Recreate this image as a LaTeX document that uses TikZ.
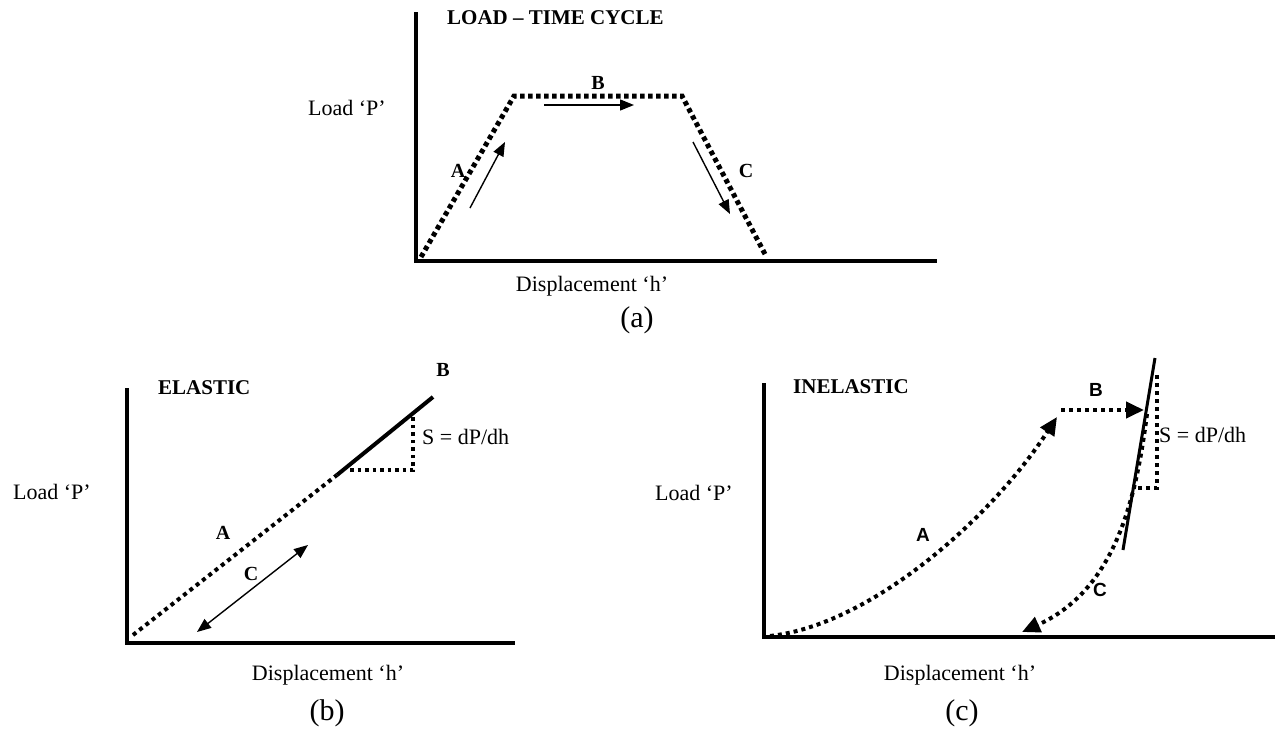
\documentclass[tikz,border=0pt]{standalone}
\usepackage{fontspec}
\setmainfont{Liberation Serif}
\newfontfamily\sanslab{Liberation Sans}
\usetikzlibrary{arrows.meta}
\begin{document}
\begin{tikzpicture}[x=1pt,y=-1pt,
  axis/.style={line width=3.5pt, line join=miter},
  dotsA/.style={line width=5pt, dash pattern=on 4.5pt off 3.5pt},
  dotsB/.style={line width=4pt, dash pattern=on 4pt off 4pt},
  solidline/.style={line width=4pt},
  thin arrow/.style={line width=1.4pt, -{Triangle[length=14pt,width=11pt]}},
  both arrow/.style={line width=1.4pt, {Triangle[length=14pt,width=11pt]}-{Triangle[length=14pt,width=11pt]}},
  big tip/.style={-{Triangle[length=18pt,width=16pt]}},
  txt/.style={inner sep=0pt, font=\fontsize{22}{26}\selectfont},
  ttl/.style={inner sep=0pt, anchor=west, font=\fontsize{21}{25}\selectfont\bfseries},
  lbl/.style={inner sep=0pt, font=\fontsize{20}{24}\selectfont\bfseries},
  sflbl/.style={inner sep=0pt, font=\fontsize{19}{24}\selectfont\sanslab\bfseries},
  capt/.style={inner sep=0pt, font=\fontsize{30}{34}\selectfont}
]
\useasboundingbox (0,0) rectangle (1275,731);

% ---------------- (a) ----------------
\coordinate (aT) at (416,12);
\coordinate (aO) at (416,261);
\coordinate (aR) at (937,261);
\draw[axis] (aT) -- (aO) -- (aR);
\coordinate (a1) at (421,257);
\coordinate (a2) at (514,96);
\coordinate (a3) at (682,96);
\coordinate (a4) at (766,256);
\draw[dotsA] (a1) -- (a2) -- (a3) -- (a4);
\node[ttl] (aTitle) at (447,18) {LOAD – TIME CYCLE};
\node[lbl] (aB) at (598,83) {B};
\node[lbl] (aA) at (458,171) {A};
\node[lbl] (aC) at (746,171) {C};
\coordinate (aAs) at (470,208);
\coordinate (aAe) at (505,142);
\coordinate (aBs) at (544,105);
\coordinate (aBe) at (634,105);
\coordinate (aCs) at (693,142);
\coordinate (aCe) at (730,214);
\draw[thin arrow] (aAs) -- (aAe);
\draw[thin arrow] (aBs) -- (aBe);
\draw[thin arrow] (aCs) -- (aCe);
\node[txt] (aLoad) at (347,108) {Load ‘P’};
\node[txt] (aDisp) at (592,286) {Displacement ‘h’};
\node[capt] (aCap) at (637,320) {(a)};

% ---------------- (b) ----------------
\coordinate (bT) at (127,388);
\coordinate (bO) at (127,643);
\coordinate (bR) at (515,643);
\draw[axis] (bT) -- (bO) -- (bR);
\coordinate (b1) at (133,635);
\coordinate (b2) at (337,475);
\coordinate (b3) at (433,397);
\draw[dotsB] (b1) -- (b2);
\draw[solidline] (b2) -- (b3);
\coordinate (bL) at (350,470);
\coordinate (bC) at (413,470);
\coordinate (bU) at (413,416);
\draw[dotsB, line width=3.5pt, dash pattern=on 3.5pt off 4pt] (bL) -- (bC) -- (bU);
\node[ttl] (bTitle) at (158,388) {ELASTIC};
\node[lbl] (bB) at (443,370) {B};
\node[lbl] (bA) at (223,533) {A};
\node[lbl] (bC2) at (251,574) {C};
\node[txt, anchor=west] (bS) at (422,437) {S = dP/dh};
\coordinate (bCs) at (197,632);
\coordinate (bCe) at (308,545);
\draw[both arrow] (bCs) -- (bCe);
\node[txt] (bLoad) at (52,492) {Load ‘P’};
\node[txt] (bDisp) at (328,675) {Displacement ‘h’};
\node[capt] (bCap) at (327,713) {(b)};

% ---------------- (c) ----------------
\coordinate (cT) at (764,383);
\coordinate (cO) at (764,637);
\coordinate (cR) at (1275,637);
\draw[axis] (cT) -- (cO) -- (cR);
\coordinate (c0) at (770,636);
\coordinate (cA1) at (870,625);
\coordinate (cA2) at (990,520);
\coordinate (cAe) at (1057,417);
\draw[dotsB, big tip] (c0) .. controls (cA1) and (cA2) .. (cAe);
\coordinate (cBs) at (1061,410);
\coordinate (cBe) at (1144,410);
\draw[dotsB, big tip] (cBs) -- (cBe);
\coordinate (cSt) at (1155,358);
\coordinate (cSb) at (1123,550);
\draw[line width=3pt] (cSt) -- (cSb);
\coordinate (cVt) at (1157,375);
\coordinate (cVb) at (1157,488);
\coordinate (cHl) at (1135,488);
\draw[dotsB] (cVt) -- (cVb) -- (cHl);
\coordinate (cC0) at (1147,414);
\coordinate (cC1) at (1136,500);
\coordinate (cC2) at (1115,590);
\coordinate (cCe) at (1022,632);
\draw[dotsB, big tip] (cC0) .. controls (cC1) and (cC2) .. (cCe);
\node[ttl] (cTitle) at (793,387) {INELASTIC};
\node[sflbl] (cA) at (923,535) {A};
\node[sflbl] (cB) at (1096,390) {B};
\node[sflbl] (cC) at (1100,590) {C};
\node[txt, anchor=west] (cS) at (1159,435) {S = dP/dh};
\node[txt] (cLoad) at (694,493) {Load ‘P’};
\node[txt] (cDisp) at (960,675) {Displacement ‘h’};
\node[capt] (cCap) at (962,713) {(c)};
\end{tikzpicture}
\end{document}
